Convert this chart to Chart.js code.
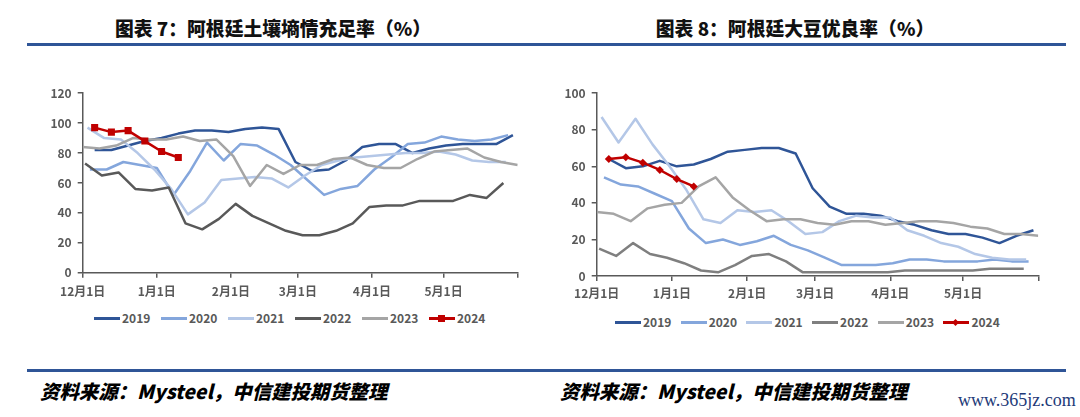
<!DOCTYPE html>
<html>
<head>
<meta charset="utf-8">
<script src="https://cdn.jsdelivr.net/npm/chart.js@4.4.1/dist/chart.umd.min.js"></script>
<style>
body { margin: 0; width: 1080px; height: 417px; background: #fff; position: relative; overflow: hidden;
       font-family: 'Noto Sans CJK SC', 'Noto Sans', sans-serif; }
.title { position: absolute; top: 16px; font-size: 18.8px; font-weight: 900; color: #111;
         transform: translateX(-50%); white-space: nowrap; line-height: 24px; }
.rule { position: absolute; left: 27px; width: 1039px; height: 3px; background: #2f5597; }
.box { position: absolute; top: 80px; width: 540px; height: 225px; }
.legend { position: absolute; display: flex; font-size: 12px; font-weight: bold; color: #595959; line-height: 14px; }
.item { display: flex; align-items: center; }
.sw { position: relative; width: 26px; height: 3px; margin-right: 2px; }
.mk { position: absolute; left: 9px; top: -2px; width: 7px; height: 7px; background: #c00000; }
.src { position: absolute; top: 378px; font-size: 19.4px; font-weight: 900; font-style: italic; color: #000;
       line-height: 26px; white-space: nowrap; }
.wm { position: absolute; left: 958px; top: 390px; font-family: 'Liberation Serif', 'DejaVu Serif', serif;
      font-size: 18px; color: #1e3a78; }
</style>
</head>
<body>
<div class="title" style="left:273px">图表 7：阿根廷土壤墒情充足率（%）</div>
<div class="title" style="left:795px">图表 8：阿根廷大豆优良率（%）</div>
<div class="rule" style="top:43px"></div>

<div class="box" style="left:0"><canvas id="soil"></canvas></div>
<div class="box" style="left:540px"><canvas id="good"></canvas></div>

<div class="legend" id="legSoil" style="left:94px;top:311px"></div>
<div class="legend" id="legGood" style="left:615px;top:315px"></div>

<div class="rule" style="top:369px"></div>
<div class="src" style="left:40px">资料来源：Mysteel，中信建投期货整理</div>
<div class="src" style="left:560px">资料来源：Mysteel，中信建投期货整理</div>
<div class="wm">www.365jz.com</div>

<script>
// season years, first weekly report of each season (days after Dec 1)
const years = ['2019', '2020', '2021', '2022', '2023', '2024'];
const firstDay = [5, 3, 2, 1, 0, 5];

// x axis: month starts, days after Dec 1
const monthDays = [0, 31, 62, 90, 121, 151, 182];
const monthLabels = ['12月1日', '1月1日', '2月1日', '3月1日', '4月1日', '5月1日', ''];

// 图表7 soil moisture adequate, weekly %
const soil2019 = [82, 82, 85, 88, 90, 93, 95, 95, 94, 96, 97, 96, 74, 68, 69, 75, 84, 86, 86, 80, 83, 85, 86, 86, 86, 92];
const soil2020 = [69, 69, 74, 72, 70, 52, 68, 87, 75, 86, 85, 79, 72, 62, 52, 56, 58, 69, 77, 86, 87, 91, 89, 88, 89, 92];
const soil2021 = [97, 90, 89, 80, 69, 56, 39, 47, 62, 63, 64, 63, 57, 65, 72, 75, 77, 78, 79, 80, 80, 81, 79, 75, 74, 74];
const soil2022 = [73, 65, 67, 56, 55, 57, 33, 29, 36, 46, 38, 33, 28, 25, 25, 28, 33, 44, 45, 45, 48, 48, 48, 52, 50, 60];
const soil2023 = [84, 83, 85, 90, 89, 89, 91, 88, 89, 78, 58, 72, 66, 72, 72, 76, 77, 72, 70, 70, 76, 81, 82, 83, 77, 74, 72];
const soil2024 = [97, 94, 95, 88, 81, 77];

// 图表8 soybean good/excellent, weekly %
const good2019 = [64, 59, 60, 63, 60, 61, 64, 68, 69, 70, 70, 67, 48, 38, 34, 34, 33, 30, 28, 25, 23, 23, 21, 18, 22, 25];
const good2020 = [54, 50, 49, 45, 41, 26, 18, 20, 17, 19, 22, 17, 14, 10, 6, 6, 6, 7, 9, 9, 8, 8, 8, 9, 8, 8];
const good2021 = [87, 73, 86, 72, 60, 47, 31, 29, 36, 35, 36, 30, 23, 24, 30, 33, 32, 32, 25, 22, 18, 16, 12, 10, 9, 9];
const good2022 = [15, 11, 18, 12, 10, 7, 3, 2, 6, 11, 12, 8, 2, 2, 2, 2, 2, 2, 3, 3, 3, 3, 3, 4, 4, 4];
const good2023 = [35, 34, 30, 37, 39, 40, 49, 54, 43, 36, 30, 31, 31, 29, 28, 30, 30, 28, 29, 30, 30, 29, 27, 26, 23, 23, 22];
const good2024 = [64, 65, 62, 58, 53, 49];

const soilColors = ['#2f5597', '#84a6dc', '#b4c7e7', '#595959', '#a5a5a5', '#c00000'];
const goodColors = ['#2f5597', '#84a6dc', '#b4c7e7', '#7f7f7f', '#a5a5a5', '#c00000'];

const axisColor = '#595959';
const fontFamily = "'Noto Sans CJK SC', 'Noto Sans', sans-serif";

function makeChart(id, series, colors, yMax, g, marker) {
    const datasets = series.map((vals, s) => {
        const isNew = s === series.length - 1;
        return {
            label: years[s],
            data: vals.map((v, i) => ({ x: firstDay[s] + 7 * i, y: v })),
            borderColor: colors[s],
            backgroundColor: colors[s],
            borderWidth: 2.5,
            borderJoinStyle: 'round',
            pointRadius: isNew ? marker.radius : 0,
            pointStyle: marker.style,
            pointBorderWidth: 0,
            tension: 0,
            order: series.length - s
        };
    });

    new Chart(document.getElementById(id), {
        type: 'line',
        data: { datasets },
        options: {
            responsive: true,
            maintainAspectRatio: false,
            animation: false,
            layout: { padding: { left: 0, right: g.right, top: g.top, bottom: 0 } },
            plugins: { legend: { display: false }, tooltip: { enabled: false } },
            scales: {
                x: {
                    type: 'linear', min: 0, max: 182,
                    afterBuildTicks: (scale) => { scale.ticks = monthDays.map(v => ({ value: v })); },
                    afterFit: (scale) => { scale.height = g.xh; },
                    grid: { drawOnChartArea: false, drawTicks: true, tickLength: 5, color: axisColor, lineWidth: 1.5 },
                    border: { display: true, color: axisColor, width: 1.5 },
                    ticks: {
                        autoSkip: false, maxRotation: 0, padding: g.xpad,
                        color: axisColor, font: { family: fontFamily, size: 12, weight: 'bold' },
                        callback: (v, i) => monthLabels[i]
                    }
                },
                y: {
                    min: 0, max: yMax,
                    afterFit: (scale) => { scale.width = g.yw; },
                    grid: { drawOnChartArea: false, drawTicks: true, tickLength: 5, color: axisColor, lineWidth: 1.5 },
                    border: { display: true, color: axisColor, width: 1.5 },
                    ticks: { stepSize: 20, padding: 6, color: axisColor, font: { family: fontFamily, size: 12, weight: 'bold' } }
                }
            }
        }
    });
}

function makeLegend(id, colors, step, diamond) {
    const box = document.getElementById(id);
    years.forEach((y, s) => {
        const item = document.createElement('div');
        item.className = 'item';
        item.style.width = step + 'px';
        const sw = document.createElement('span');
        sw.className = 'sw';
        sw.style.background = colors[s];
        if (s === years.length - 1) {
            const mk = document.createElement('span');
            mk.className = 'mk';
            if (diamond) { mk.style.width = '5px'; mk.style.height = '5px'; mk.style.top = '-1px'; mk.style.left = '10px'; mk.style.transform = 'rotate(45deg)'; }
            sw.appendChild(mk);
        }
        const t = document.createElement('span');
        t.textContent = y;
        item.appendChild(sw);
        item.appendChild(t);
        box.appendChild(item);
    });
}

makeChart('soil', [soil2019, soil2020, soil2021, soil2022, soil2023, soil2024], soilColors, 120,
    { right: 22.3, top: 11.7, xh: 32.3, yw: 82.7, xpad: 7 }, { style: 'rect', radius: 5 });
makeChart('good', [good2019, good2020, good2021, good2022, good2023, good2024], goodColors, 100,
    { right: 41.7, top: 8.3, xh: 29, yw: 56.7, xpad: 5 }, { style: 'rectRot', radius: 4 });

makeLegend('legSoil', soilColors, 67, false);
makeLegend('legGood', goodColors, 65.7, true);
</script>
</body>
</html>
